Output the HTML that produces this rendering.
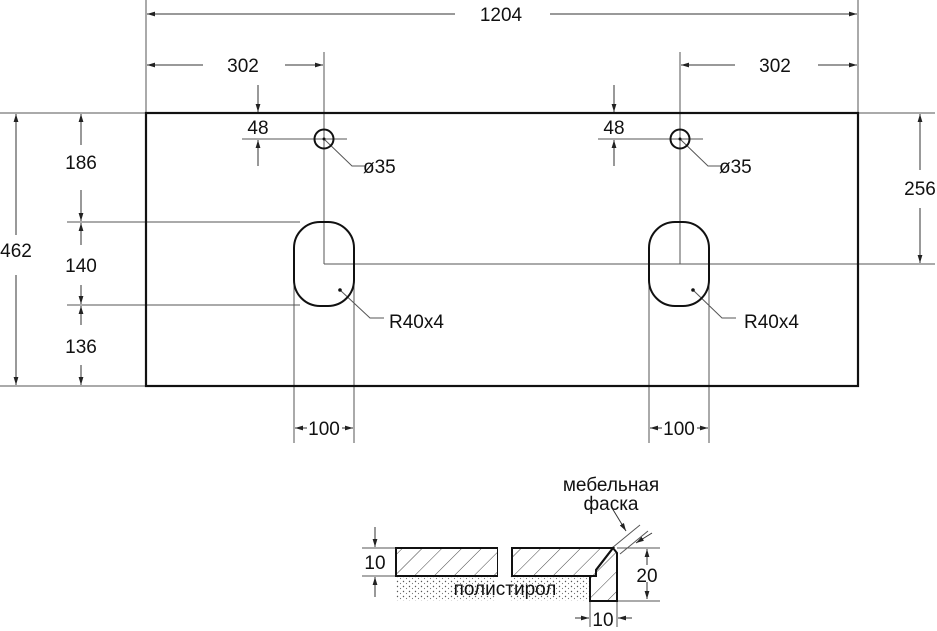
<!DOCTYPE html>
<html><head><meta charset="utf-8"><style>body{margin:0;background:#fff}svg{display:block}text{font-family:"Liberation Sans",sans-serif;font-size:19px;fill:#111}</style></head><body>
<svg width="937" height="631" viewBox="0 0 937 631" xmlns="http://www.w3.org/2000/svg">
<defs>
<marker id="a" viewBox="0 0 10 6" refX="10" refY="3" markerWidth="8" markerHeight="5" orient="auto-start-reverse" markerUnits="userSpaceOnUse"><path d="M0,0L10,3L0,6z" fill="#222"/></marker>
<pattern id="h" width="14" height="14" patternUnits="userSpaceOnUse" patternTransform="rotate(45)"><line x1="0" y1="0" x2="0" y2="14" stroke="#444" stroke-width="1"/></pattern>
<pattern id="d" width="6" height="5" patternUnits="userSpaceOnUse"><circle cx="1.5" cy="1.5" r="0.7" fill="#555"/><circle cx="4.5" cy="3.5" r="0.6" fill="#777"/></pattern>
</defs>
<g stroke="#555" stroke-width="1" fill="none">
<line x1="146" y1="0" x2="146" y2="113"/><line x1="858" y1="0" x2="858" y2="113"/>
<line x1="0" y1="113" x2="146" y2="113"/><line x1="0" y1="386" x2="146" y2="386"/>
<line x1="858" y1="113" x2="935" y2="113"/>
<line x1="324" y1="52" x2="324" y2="264"/><line x1="680" y1="52" x2="680" y2="264"/>
<line x1="324" y1="264" x2="935" y2="264"/>
<line x1="67" y1="222" x2="300" y2="222"/><line x1="67" y1="305" x2="300" y2="305"/>
<line x1="242" y1="139" x2="347" y2="139"/><line x1="598" y1="139" x2="703" y2="139"/>
<line x1="294" y1="265" x2="294" y2="443"/><line x1="354" y1="265" x2="354" y2="443"/>
<line x1="649" y1="265" x2="649" y2="443"/><line x1="709" y1="265" x2="709" y2="443"/>
</g>
<g stroke="#333" stroke-width="1" fill="none" marker-end="url(#a)">
<line x1="455" y1="14" x2="147" y2="14"/><line x1="550" y1="14" x2="857" y2="14"/>
<line x1="203" y1="65" x2="147" y2="65"/><line x1="285" y1="65" x2="323" y2="65"/>
<line x1="735" y1="65" x2="681" y2="65"/><line x1="818" y1="65" x2="857" y2="65"/>
<line x1="258" y1="85" x2="258" y2="112"/><line x1="258" y1="166" x2="258" y2="140"/>
<line x1="614" y1="85" x2="614" y2="112"/><line x1="614" y1="166" x2="614" y2="140"/>
<line x1="16" y1="235" x2="16" y2="114"/><line x1="16" y1="275" x2="16" y2="385"/>
<line x1="81" y1="145" x2="81" y2="114"/><line x1="81" y1="190" x2="81" y2="221"/>
<line x1="81" y1="245" x2="81" y2="223"/><line x1="81" y1="285" x2="81" y2="304"/>
<line x1="81" y1="325" x2="81" y2="306"/><line x1="81" y1="365" x2="81" y2="385"/>
<line x1="920" y1="170" x2="920" y2="114"/><line x1="920" y1="208" x2="920" y2="263"/>
<line x1="307" y1="428" x2="295" y2="428"/><line x1="342" y1="428" x2="353" y2="428"/>
<line x1="662" y1="428" x2="650" y2="428"/><line x1="697" y1="428" x2="708" y2="428"/>
<line x1="375" y1="527" x2="375" y2="547"/><line x1="375" y1="597" x2="375" y2="577"/>
<line x1="647" y1="565" x2="647" y2="549"/><line x1="647" y1="582" x2="647" y2="599"/>
<line x1="575" y1="618" x2="589" y2="618"/><line x1="632" y1="618" x2="618" y2="618"/>
<line x1="612" y1="508" x2="626" y2="531"/><line x1="652" y1="533" x2="636" y2="543"/>
</g>
<g stroke="#555" stroke-width="1" fill="none">
<polyline points="324,139 352,166 365,166"/><polyline points="680,139 708,166 721,166"/>
<polyline points="340,290 370,318 384,318"/><polyline points="693,290 722,318 736,318"/>
<line x1="362" y1="548" x2="397" y2="548"/><line x1="362" y1="576" x2="397" y2="576"/>
<line x1="617" y1="548" x2="660" y2="548"/><line x1="617" y1="601" x2="660" y2="601"/>
<line x1="590" y1="601" x2="590" y2="627"/><line x1="617" y1="601" x2="617" y2="627"/>
<line x1="612" y1="548" x2="640" y2="525"/><line x1="620" y1="554" x2="648" y2="531"/>
</g>
<circle cx="340" cy="290" r="1.8" fill="#111"/><circle cx="693" cy="290" r="1.8" fill="#111"/>
<circle cx="324" cy="139" r="1.5" fill="#111"/><circle cx="680" cy="139" r="1.5" fill="#111"/>
<rect x="146" y="113" width="712" height="273" fill="none" stroke="#111" stroke-width="2.2"/>
<circle cx="324" cy="139" r="9.5" fill="none" stroke="#111" stroke-width="2"/>
<circle cx="680" cy="139" r="9.5" fill="none" stroke="#111" stroke-width="2"/>
<rect x="294" y="222" width="60" height="84" rx="26" fill="none" stroke="#111" stroke-width="2"/>
<rect x="649" y="222" width="60" height="84" rx="26" fill="none" stroke="#111" stroke-width="2"/>
<rect x="395" y="576" width="100" height="25" fill="url(#d)"/>
<rect x="510" y="576" width="80" height="25" fill="url(#d)"/>
<rect x="396" y="548" width="102" height="28" fill="url(#h)" stroke="#111" stroke-width="2"/>
<path d="M512,548 H613 L596,570 V576 H512 Z" fill="url(#h)" stroke="#111" stroke-width="2"/>
<path d="M613,548 L617,553 V601 H590 V576 H596 V570 Z" fill="url(#h)" stroke="#111" stroke-width="2"/>
<rect x="498" y="546" width="12" height="58" fill="#fff"/>
<text x="243" y="72" text-anchor="middle">302</text><text x="775" y="72" text-anchor="middle">302</text>
<text x="501" y="21" text-anchor="middle">1204</text>
<text x="258" y="134" text-anchor="middle">48</text><text x="614" y="134" text-anchor="middle">48</text>
<text x="363" y="173">ø35</text><text x="719" y="173">ø35</text>
<text x="16" y="257" text-anchor="middle">462</text>
<text x="81" y="169" text-anchor="middle">186</text><text x="81" y="272" text-anchor="middle">140</text><text x="81" y="353" text-anchor="middle">136</text>
<text x="920" y="195" text-anchor="middle">256</text>
<text x="389" y="328">R40x4</text><text x="744" y="328">R40x4</text>
<text x="324" y="435" text-anchor="middle">100</text><text x="679" y="435" text-anchor="middle">100</text>
<text x="611" y="491" text-anchor="middle">мебельная</text><text x="611" y="510" text-anchor="middle">фаска</text>
<text x="375" y="569" text-anchor="middle">10</text><text x="647" y="582" text-anchor="middle">20</text>
<text x="603" y="626" text-anchor="middle">10</text>
<text x="505" y="595" text-anchor="middle">полистирол</text>
</svg>
</body></html>
